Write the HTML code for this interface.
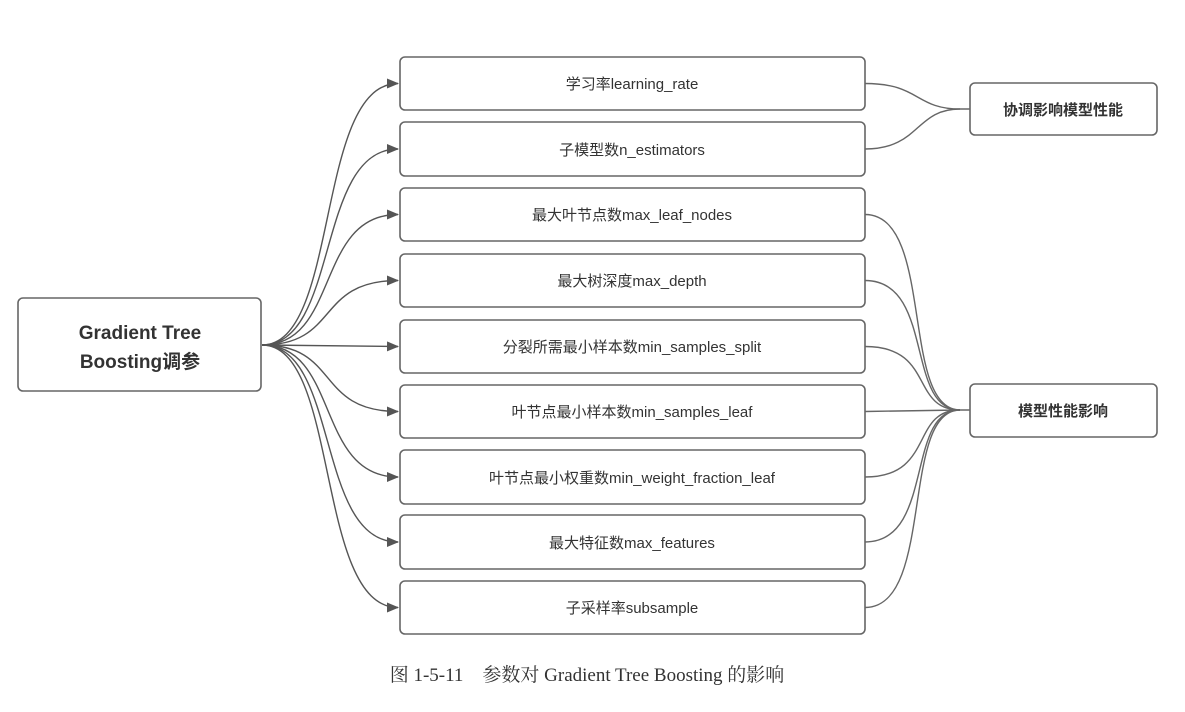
<!DOCTYPE html>
<html><head><meta charset="utf-8"><style>
body{margin:0;background:#fff;width:1185px;height:707px;overflow:hidden}
svg text{font-family:"Liberation Sans","Noto Sans CJK SC",sans-serif;fill:#333}
</style></head><body>
<svg width="1185" height="707" xmlns="http://www.w3.org/2000/svg">
<defs><marker id="a" markerWidth="12" markerHeight="10" refX="11" refY="5" orient="auto" markerUnits="userSpaceOnUse"><path d="M0,0 L12,5 L0,10 z" fill="#555"/></marker></defs>
<g fill="none" stroke="#666" stroke-width="1.6">
<rect x="18" y="298" width="243" height="93" rx="5"/>
<rect x="970" y="83" width="187" height="52" rx="5"/>
<rect x="970" y="384" width="187" height="53" rx="5"/>
<g id="boxes">
<rect x="400" y="57" width="465" height="53" rx="5"/>
<rect x="400" y="122" width="465" height="54" rx="5"/>
<rect x="400" y="188" width="465" height="53" rx="5"/>
<rect x="400" y="254" width="465" height="53" rx="5"/>
<rect x="400" y="320" width="465" height="53" rx="5"/>
<rect x="400" y="385" width="465" height="53" rx="5"/>
<rect x="400" y="450" width="465" height="54" rx="5"/>
<rect x="400" y="515" width="465" height="54" rx="5"/>
<rect x="400" y="581" width="465" height="53" rx="5"/>
</g>
</g>
<g fill="none" stroke="#555" stroke-width="1.4" marker-end="url(#a)">
<path d="M262,345 C340,345 315,83.5 398,83.5"/>
<path d="M262,345 C340,345 315,149 398,149"/>
<path d="M262,345 C340,345 315,214.5 398,214.5"/>
<path d="M262,345 C340,345 315,280.5 398,280.5"/>
<path d="M262,345 L398,346.5"/>
<path d="M262,345 C340,345 315,411.5 398,411.5"/>
<path d="M262,345 C340,345 315,477 398,477"/>
<path d="M262,345 C340,345 315,542 398,542"/>
<path d="M262,345 C340,345 315,607.5 398,607.5"/>
</g>
<g fill="none" stroke="#666" stroke-width="1.4">
<path d="M865,83.5 C920,83.5 915,109 960,109 L970,109"/>
<path d="M865,149 C920,149 915,109 960,109"/>
<path d="M865,214.5 C935,214.5 900,410 960,410 L970,410"/>
<path d="M865,280.5 C935,280.5 905,410 960,410"/>
<path d="M865,346.5 C935,346.5 910,410 960,410"/>
<path d="M865,411.5 L960,410"/>
<path d="M865,477 C935,477 910,410 960,410"/>
<path d="M865,542 C935,542 905,410 960,410"/>
<path d="M865,607.5 C935,607.5 900,410 960,410"/>
</g>
<g font-size="15" text-anchor="middle">
<text x="632" y="89">学习率learning_rate</text>
<text x="632" y="155">子模型数n_estimators</text>
<text x="632" y="220">最大叶节点数max_leaf_nodes</text>
<text x="632" y="286">最大树深度max_depth</text>
<text x="632" y="352">分裂所需最小样本数min_samples_split</text>
<text x="632" y="417">叶节点最小样本数min_samples_leaf</text>
<text x="632" y="483">叶节点最小权重数min_weight_fraction_leaf</text>
<text x="632" y="548">最大特征数max_features</text>
<text x="632" y="613">子采样率subsample</text>
</g>
<g font-size="15" font-weight="bold" text-anchor="middle">
<text x="1063" y="115">协调影响模型性能</text>
<text x="1063" y="416">模型性能影响</text>
</g>
<g font-size="19" font-weight="bold" text-anchor="middle">
<text x="140" y="339">Gradient Tree</text>
<text x="140" y="368">Boosting调参</text>
</g>
<text x="587" y="681" font-size="19" text-anchor="middle" style="font-family:'Liberation Serif','Noto Serif CJK SC',serif">图 1-5-11　参数对 Gradient Tree Boosting 的影响</text>
</svg>
</body></html>
